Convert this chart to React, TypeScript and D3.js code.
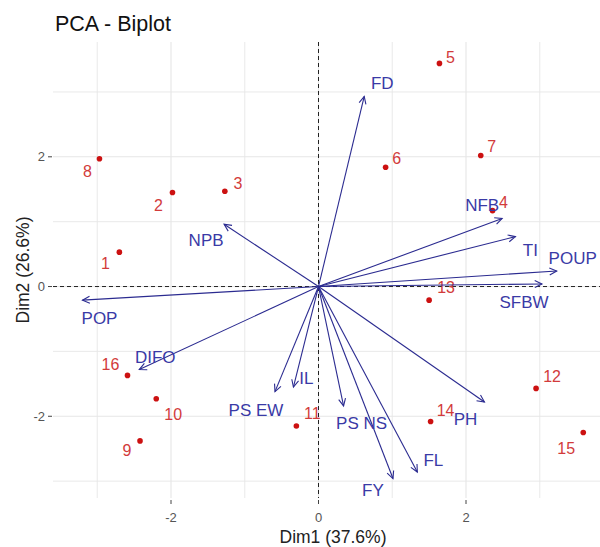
import React from "react";
import * as d3 from "d3";

// individuals (Dim1, Dim2)
const indNames = ["1","2","3","4","5","6","7","8","9","10","11","12","13","14","15","16"];
const indDim1 = [-2.70,-1.98,-1.27,2.36,1.64,0.91,2.20,-2.97,-2.42,-2.20,-0.30,2.95,1.50,1.52,3.59,-2.59];
const indDim2 = [0.53,1.45,1.47,1.17,3.44,1.84,2.02,1.97,-2.38,-1.73,-2.15,-1.57,-0.21,-2.08,-2.25,-1.37];

// variables (arrow tips)
const varNames = ["FD","NFB","TI","POUP","SFBW","PH","FL","FY","PS NS","IL","PS EW","DIFO","POP","NPB"];
const varDim1 = [0.62,2.49,2.67,3.23,3.03,2.25,1.34,1.01,0.34,-0.34,-0.59,-2.43,-3.20,-1.28];
const varDim2 = [2.93,1.05,0.77,0.24,0.04,-1.78,-2.86,-2.96,-1.84,-1.55,-1.62,-1.28,-0.21,0.96];

const xTicks = [-2, 0, 2];
const yTicks = [-2, 0, 2];
const xMinor = [-3, -1, 1, 3];
const yMinor = [-3, -1, 1, 3];

// label nudges (px) for readability
const indLabelNudge: [number, number][] = [
  [-14, 11], [-14, 13], [13, -8], [11, -8], [11, -6], [11, -9], [11, -9], [-12, 13],
  [-13, 10], [17, 16], [16, -13], [16, -12], [17, -13], [15, -11], [-17, 16], [-17, -11],
];
const varLabelNudge: [number, number][] = [
  [18, -13], [-20, -13], [15, 13], [16, -13], [-18, 18], [-19, 17], [16, -12],
  [-20, 11], [18, 17], [13, -9], [-19, 18], [16, -13], [17, 18], [-18, 16],
];

const W = 600, H = 547;
const PL = 53, PR = 613.5, PT = 42, PB = 498;

export default function App() {
  const x = d3.scaleLinear().domain([-3.6, 4.0]).range([PL, PR]);
  const y = d3.scaleLinear().domain([-3.26, 3.77]).range([PB, PT]);
  const font = "'Liberation Sans', Arial, sans-serif";
  const blue = "#2b2b90";
  const blueText = "#3a3aa6";
  const red = "#cc1111";
  const redText = "#d23b3b";
  const grid = "#e6e6e6";

  const arrowHead = (x0: number, y0: number, x1: number, y1: number) => {
    const ang = Math.atan2(y1 - y0, x1 - x0);
    const len = 8, spread = Math.PI / 7;
    const a1 = ang + Math.PI - spread, a2 = ang + Math.PI + spread;
    return `M${x1 + len * Math.cos(a1)},${y1 + len * Math.sin(a1)}L${x1},${y1}L${x1 + len * Math.cos(a2)},${y1 + len * Math.sin(a2)}`;
  };

  return (
    <svg width={W} height={H} style={{ position: "absolute", left: 0, top: 0, background: "#fff" }} fontFamily={font}>
      <rect x={0} y={0} width={W} height={H} fill="#fff" />
      <text x={55} y={31} fontSize={21.5} fill="#111">PCA - Biplot</text>

      {/* grid */}
      {xMinor.map((v) => (
        <line key={"xm" + v} x1={x(v)} x2={x(v)} y1={PT} y2={PB} stroke={grid} strokeWidth={0.9} />
      ))}
      {yMinor.map((v) => (
        <line key={"ym" + v} x1={PL} x2={PR} y1={y(v)} y2={y(v)} stroke={grid} strokeWidth={0.9} />
      ))}
      {xTicks.map((v) => (
        <line key={"xg" + v} x1={x(v)} x2={x(v)} y1={PT} y2={PB} stroke={grid} strokeWidth={1.1} />
      ))}
      {yTicks.map((v) => (
        <line key={"yg" + v} x1={PL} x2={PR} y1={y(v)} y2={y(v)} stroke={grid} strokeWidth={1.1} />
      ))}

      {/* ticks */}
      {xTicks.map((v) => (
        <g key={"xt" + v}>
          <line x1={x(v)} x2={x(v)} y1={PB + 2} y2={PB + 6} stroke="#444" strokeWidth={1} />
          <text x={x(v)} y={PB + 24} textAnchor="middle" fontSize={13} fill="#555">{v}</text>
        </g>
      ))}
      {yTicks.map((v) => (
        <g key={"yt" + v}>
          <line x1={PL - 5} x2={PL - 1} y1={y(v)} y2={y(v)} stroke="#444" strokeWidth={1} />
          <text x={PL - 8} y={y(v) + 4.5} textAnchor="end" fontSize={13} fill="#555">{v}</text>
        </g>
      ))}

      {/* axis titles */}
      <text x={333} y={543} textAnchor="middle" fontSize={17.5} fill="#222">Dim1 (37.6%)</text>
      <text transform={`translate(29,270) rotate(-90)`} textAnchor="middle" fontSize={17.5} fill="#222">Dim2 (26.6%)</text>

      {/* reference lines */}
      <line x1={x(0)} x2={x(0)} y1={PT} y2={PB} stroke="#222" strokeWidth={1} strokeDasharray="4,3" />
      <line x1={PL} x2={PR} y1={y(0)} y2={y(0)} stroke="#222" strokeWidth={1} strokeDasharray="4,3" />

      {/* points */}
      {indNames.map((n, i) => (
        <g key={"p" + n}>
          <circle cx={x(indDim1[i])} cy={y(indDim2[i])} r={2.8} fill={red} />
          <text x={x(indDim1[i]) + indLabelNudge[i][0]} y={y(indDim2[i]) + indLabelNudge[i][1] + 5.5}
            textAnchor="middle" fontSize={16} fill={redText}>{n}</text>
        </g>
      ))}

      {/* variable arrows */}
      {varNames.map((n, i) => {
        const x0 = x(0), y0 = y(0), x1 = x(varDim1[i]), y1 = y(varDim2[i]);
        return (
          <g key={"v" + n}>
            <line x1={x0} y1={y0} x2={x1} y2={y1} stroke={blue} strokeWidth={1.1} />
            <path d={arrowHead(x0, y0, x1, y1)} fill="none" stroke={blue} strokeWidth={1.1} />
            <text x={x1 + varLabelNudge[i][0]} y={y1 + varLabelNudge[i][1] + 6}
              textAnchor="middle" fontSize={17} fill={blueText}>{n}</text>
          </g>
        );
      })}
    </svg>
  );
}
